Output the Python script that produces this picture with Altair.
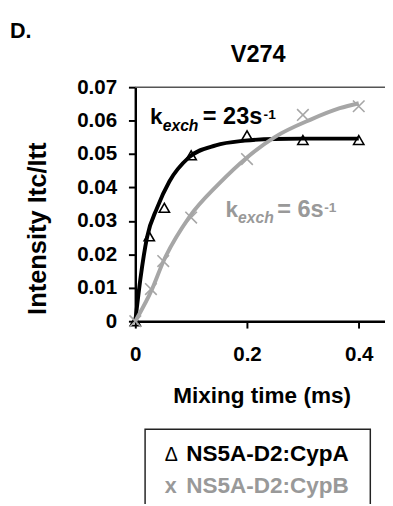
import altair as alt
import pandas as pd

# ---- data ----
pts_t_a = [0.0, 0.025, 0.052, 0.10, 0.20, 0.30, 0.40]
pts_y_a = [0.0, 0.0254, 0.0339, 0.0496, 0.0556, 0.0542, 0.0542]
pts_t_b = [0.0, 0.028, 0.05, 0.10, 0.20, 0.30, 0.40]
pts_y_b = [0.0, 0.0096, 0.0180, 0.0310, 0.0485, 0.0617, 0.0643]

fit_t_a = [0.0, 0.009, 0.021, 0.039, 0.061, 0.096, 0.144, 0.196, 0.25, 0.30, 0.40]
fit_y_a = [0.0, 0.0125, 0.0251, 0.0339, 0.0418, 0.0490, 0.0526, 0.0540, 0.0545, 0.0546, 0.0546]
fit_t_b = [0.0, 0.03, 0.05, 0.096, 0.149, 0.20, 0.249, 0.314, 0.366, 0.40]
fit_y_b = [0.0, 0.0096, 0.0178, 0.0310, 0.0410, 0.0490, 0.0550, 0.0603, 0.0637, 0.0652]

y_ticks = [0, 0.01, 0.02, 0.03, 0.04, 0.05, 0.06, 0.07]
x_ticks = [0, 0.2, 0.4]

series_names = ["NS5A-D2:CypA", "NS5A-D2:CypB"]

W = 255
H = 239
FONT = "Liberation Sans"
BLACK = "#000000"
GREY_LINE = "#a6a6a6"
GREY_TEXT = "#999999"

x_scale = alt.Scale(domain=[0, 0.447], nice=False, zero=False)
y_scale = alt.Scale(domain=[0, 0.07], nice=False, zero=False)

common_axis = dict(
    labelFont=FONT, labelFontSize=21, labelFontWeight="bold", labelColor=BLACK,
    domainColor=BLACK, domainWidth=2.5, tickColor=BLACK, tickWidth=2, tickSize=7,
    grid=False, labelFlush=False, labelOverlap=False, labelBound=False,
    titleFont=FONT, titleFontWeight="bold", titleColor=BLACK,
)

x_axis = alt.Axis(values=x_ticks, format=".1~f", labelPadding=16,
                  title="Mixing time (ms)", titleFontSize=23,
                  titleX=129, titleY=83, titleBaseline="alphabetic", titleAlign="center",
                  **common_axis)
y_axis = alt.Axis(values=y_ticks, format=".2~f", labelPadding=12,
                  title="Intensity Itc/Itt", titleFontSize=26, titleAngle=270,
                  titleX=-100, titleY=144, titleBaseline="middle", titleAlign="center",
                  **common_axis)

X = alt.X("t:Q", scale=x_scale, axis=x_axis)
Y = alt.Y("y:Q", scale=y_scale, axis=y_axis)

df_fa = pd.DataFrame({"t": fit_t_a, "y": fit_y_a})
df_fb = pd.DataFrame({"t": fit_t_b, "y": fit_y_b})
df_pa = pd.DataFrame({"t": pts_t_a, "y": pts_y_a})
df_pb = pd.DataFrame({"t": pts_t_b, "y": pts_y_b})

line_a = alt.Chart(df_fa).mark_line(color=BLACK, strokeWidth=4, interpolate="monotone").encode(x=X, y=Y)
pts_a = alt.Chart(df_pa).mark_point(shape="triangle-up", filled=False, stroke=BLACK,
                                    strokeWidth=1.6, size=110, opacity=1).encode(x=X, y=Y)
line_b = alt.Chart(df_fb).mark_line(color=GREY_LINE, strokeWidth=4, interpolate="monotone").encode(x=X, y=Y)
pts_b = alt.Chart(df_pb).mark_point(shape="M-1,-1L1,1M-1,1L1,-1", filled=False, stroke=GREY_LINE,
                                    strokeWidth=1.6, size=140, opacity=1).encode(x=X, y=Y)

one = pd.DataFrame({"a": [0]})

top_rule = alt.Chart(one).mark_rule(color="#555555", strokeWidth=1.5).encode(
    x=alt.value(0), x2=alt.value(W), y=alt.value(0))


def txt(text, x, y, size, color=BLACK, weight="bold", style="normal", align="left", baseline="alphabetic"):
    return alt.Chart(one).mark_text(text=text, font=FONT, fontSize=size, fontWeight=weight,
                                    fontStyle=style, color=color, align=align,
                                    baseline=baseline).encode(x=alt.value(x), y=alt.value(y))


labels = [
    txt("D.", -128, -50.6, 22),
    txt("V274", 125.5, -25.3, 24, align="center"),
    # k_exch = 23 s^-1 (black)
    txt("k", 15, 38, 23),
    txt("exch", 28, 44.5, 16, style="italic"),
    txt("= 23s", 69, 38, 24),
    txt("-1", 131, 32.5, 14),
    # k_exch = 6 s^-1 (grey)
    txt("k", 92, 132.4, 23, color=GREY_TEXT),
    txt("exch", 105, 139, 16, color=GREY_TEXT, style="italic"),
    txt("= 6s", 145, 132.4, 24, color=GREY_TEXT),
    txt("-1", 193, 127, 14, color=GREY_TEXT),
]

legend_box = alt.Chart(one).mark_rect(fill="white", fillOpacity=0, stroke="#222222", strokeWidth=1.5).encode(
    x=alt.value(10), x2=alt.value(240), y=alt.value(349.4), y2=alt.value(440))
legend = [
    legend_box,
    txt("\u0394", 30, 381.4, 20, weight="normal"),
    txt(series_names[0], 52, 381.4, 23),
    txt("x", 30, 414.4, 22, color=GREY_TEXT),
    txt(series_names[1], 52, 414.4, 23, color=GREY_TEXT),
]

chart = alt.layer(
    top_rule, line_a, pts_a, line_b, pts_b, *labels, *legend
).properties(
    width=W, height=H,
    autosize=alt.AutoSizeParams(type="none"),
    padding={"left": 130, "top": 75.6, "right": 0, "bottom": 181},
).configure_view(stroke=None)

chart.save("out.html", embed_options={"renderer": "svg", "actions": False})
